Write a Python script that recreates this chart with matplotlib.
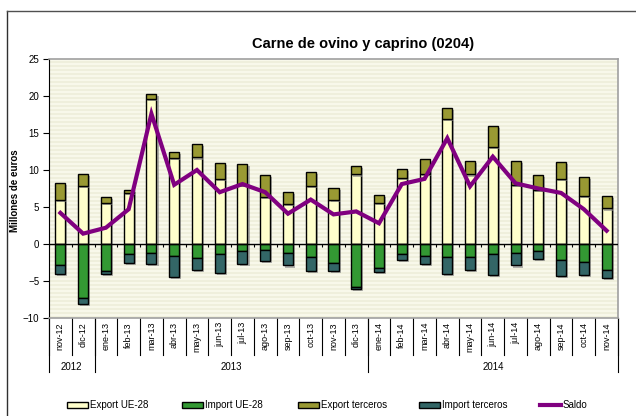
import numpy as np
import matplotlib
matplotlib.use("Agg")
import matplotlib.pyplot as plt
from matplotlib.colors import ListedColormap
from matplotlib.lines import Line2D
from matplotlib.patches import Rectangle
import matplotlib.patheffects as pe
import matplotlib.transforms as mtransforms

plt.rcParams['font.family'] = ['Liberation Sans', 'DejaVu Sans']

# data (millones de euros)
months = ["nov-12", "dic-12", "ene-13", "feb-13", "mar-13", "abr-13", "may-13",
          "jun-13", "jul-13", "ago-13", "sep-13", "oct-13", "nov-13", "dic-13",
          "ene-14", "feb-14", "mar-14", "abr-14", "may-14", "jun-14", "jul-14",
          "ago-14", "sep-14", "oct-14", "nov-14"]
years = ["2012", "2013", "2014"]
year_counts = [2, 12, 11]

export_ue = [6.0, 7.9, 5.6, 6.85, 19.6, 11.6, 11.7, 8.8, 8.0, 6.3, 5.45, 7.8, 5.95,
             9.4, 5.5, 8.9, 9.5, 16.9, 9.4, 13.1, 8.0, 7.3, 8.8, 6.5, 4.8]
export_terceros = [2.2, 1.6, 0.7, 0.45, 0.7, 0.8, 1.8, 2.15, 2.8, 3.0, 1.55, 1.9, 1.65,
                   1.2, 1.1, 1.3, 2.0, 1.5, 1.8, 2.8, 3.2, 2.0, 2.3, 2.5, 1.7]
import_ue = [-2.9, -7.35, -3.65, -1.4, -1.25, -1.6, -1.9, -1.35, -1.0, -0.8, -1.2, -1.75,
             -2.6, -5.8, -3.25, -1.35, -1.6, -1.75, -1.75, -1.35, -1.15, -0.95, -2.15,
             -2.45, -3.55]
import_terceros = [-1.15, -0.75, -0.4, -1.2, -1.4, -2.85, -1.6, -2.55, -1.7, -1.5, -1.7,
                   -1.95, -1.0, -0.3, -0.55, -0.85, -1.05, -2.3, -1.7, -2.85, -1.75,
                   -1.05, -2.15, -1.75, -1.05]
saldo = [4.2, 1.4, 2.2, 4.7, 17.6, 8.0, 10.0, 7.0, 8.1, 7.0, 4.1, 6.0, 4.0, 4.4, 2.8,
         8.1, 8.8, 14.3, 7.8, 11.8, 8.2, 7.5, 6.9, 4.7, 1.8]

c_exp_ue = "#FFFFCC"
c_imp_ue = "#339933"
c_exp_3 = "#999933"
c_imp_3 = "#336666"
c_saldo = "#800080"

fig = plt.figure(figsize=(6.36, 4.16), dpi=100)
ax = fig.add_axes([49 / 636, 1 - 318 / 416, 569 / 636, 259 / 416])

# striped plot background
stripes = np.arange(130).reshape(-1, 1) % 2
ax.imshow(stripes, cmap=ListedColormap(["#F8F8EA", "#EFEFDC"]), extent=[0, 1, 0, 1],
          transform=ax.transAxes, aspect="auto", interpolation="nearest", zorder=0)

x = np.arange(len(months))
w = 0.44
shadow = [pe.SimplePatchShadow(offset=(1.5, -1.5), shadow_rgbFace="#808080", alpha=0.6),
          pe.Normal()]
bar_kw = dict(width=w, edgecolor="black", linewidth=1, zorder=3)

b1 = ax.bar(x, export_ue, color=c_exp_ue, **bar_kw)
b3 = ax.bar(x, export_terceros, bottom=export_ue, color=c_exp_3, **bar_kw)
b2 = ax.bar(x, import_ue, color=c_imp_ue, **bar_kw)
b4 = ax.bar(x, import_terceros, bottom=import_ue, color=c_imp_3, **bar_kw)
for bars in (b1, b2, b3, b4):
    for p in bars:
        p.set_path_effects(shadow)

ax.plot(x, saldo, color=c_saldo, linewidth=3, zorder=5, solid_joinstyle="miter")

ax.axhline(0, color="black", linewidth=1, zorder=4)
ax.vlines(np.arange(-0.5, len(months)), -0.4, 0, color="black", linewidth=0.8, zorder=4)

ax.set_xlim(-0.5, len(months) - 0.5)
ax.set_ylim(-10, 25)
ax.set_yticks(range(-10, 26, 5))
ax.tick_params(axis="y", labelsize=7, length=4, width=0.8, pad=3)
ax.set_xticks([])
for s in ("top", "right", "bottom"):
    ax.spines[s].set_color("#A0A0A0")
    ax.spines[s].set_linewidth(1.2)
ax.spines["left"].set_color("black")
ax.spines["left"].set_linewidth(0.8)

ax.set_ylabel("Millones de euros", fontsize=7, fontweight="bold")
ax.yaxis.set_label_coords(-29 / 569, 0.49)

# category table below the axis
trans = mtransforms.blended_transform_factory(ax.transData, ax.transAxes)
px = 1 / 259
for i, m in enumerate(months):
    ax.text(i, -4 * px, m, rotation=90, ha="center", va="top", fontsize=6.5,
            transform=trans, clip_on=False)
for b in np.arange(-0.5, len(months)):
    ax.plot([b, b], [0, -37 * px], color="black", linewidth=0.8, transform=trans,
            clip_on=False)
start = -0.5
for yr, n in zip(years, year_counts):
    ax.plot([start, start], [0, -54 * px], color="black", linewidth=0.8,
            transform=trans, clip_on=False)
    ax.text(start + n / 2, -49 * px, yr, ha="center", va="center", fontsize=7,
            transform=trans, clip_on=False)
    start += n
ax.plot([start, start], [0, -54 * px], color="black", linewidth=0.8,
        transform=trans, clip_on=False)

fig.text(363 / 636, 1 - 44 / 416, "Carne de ovino y caprino (0204)", ha="center",
         va="center", fontsize=10.5, fontweight="bold")

# legend
leg_items = [("Export UE-28", c_exp_ue, 67), ("Import UE-28", c_imp_ue, 182),
             ("Export terceros", c_exp_3, 298), ("Import terceros", c_imp_3, 419)]
ly = 1 - 405 / 416
for lab, col, lx in leg_items:
    fig.add_artist(Rectangle((lx / 636, ly - 3 / 416), 21 / 636, 6 / 416,
                             facecolor=col, edgecolor="black", linewidth=1,
                             transform=fig.transFigure))
    fig.text((lx + 23) / 636, ly, lab, ha="left", va="center", fontsize=7)
fig.add_artist(Line2D([540 / 636, 561 / 636], [ly, ly], color=c_saldo, linewidth=3,
                      transform=fig.transFigure))
fig.text(563 / 636, ly, "Saldo", ha="left", va="center", fontsize=7)

# outer frame (left and top visible)
fig.add_artist(Line2D([6.5 / 636, 6.5 / 636], [0, 1 - 11 / 416], color="#303030",
                      linewidth=1, transform=fig.transFigure))
fig.add_artist(Line2D([6.5 / 636, 1], [1 - 11 / 416, 1 - 11 / 416], color="#505050",
                      linewidth=1, transform=fig.transFigure))

fig.savefig("out.png", dpi=100)
